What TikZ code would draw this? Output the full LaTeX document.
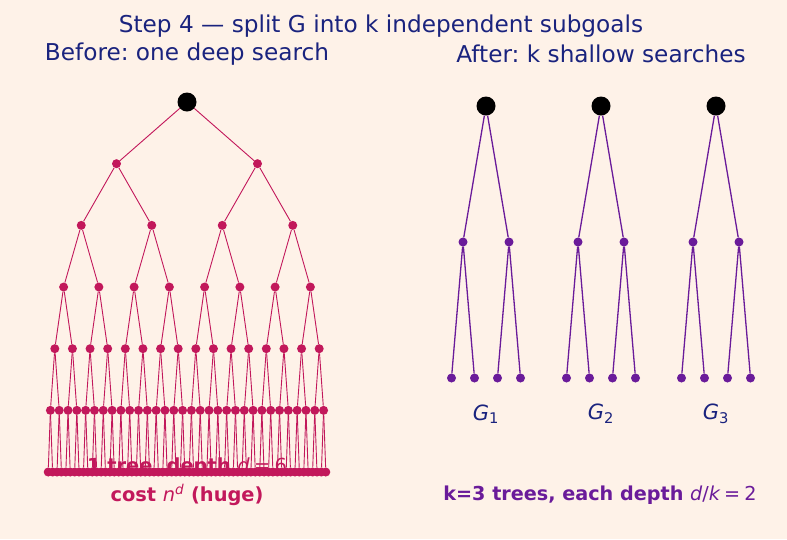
\documentclass[tikz,border=0pt]{standalone}
\usepackage{fontspec}
\setmainfont{DejaVu Sans}
\frenchspacing

\definecolor{bgcream}{HTML}{FEF2E8}
\definecolor{deepred}{HTML}{C2185B}
\definecolor{deeppurple}{HTML}{6A1B9A}
\definecolor{titlenavy}{HTML}{1A237E}

\newcommand{\mvar}[1]{{\mdseries\itshape #1}}
\newcommand{\meq}{{\mdseries\hspace{0.22em}=\hspace{0.22em}}}

\tikzset{
  rootdot/.style={circle,fill=black,inner sep=0pt,minimum size=19pt},
  reddot/.style={circle,fill=deepred,inner sep=0pt,minimum size=9pt},
  purpledot/.style={circle,fill=deeppurple,inner sep=0pt,minimum size=9pt},
  redline/.style={draw=deepred,line width=0.9pt},
  purpleline/.style={draw=deeppurple,line width=1.3pt},
  headtext/.style={text=titlenavy,font=\fontsize{23.2}{27}\selectfont},
  glabel/.style={text=titlenavy,font=\fontsize{21}{25}\selectfont},
  redtext/.style={text=deepred,font=\fontsize{19.4}{23}\selectfont\bfseries},
  purpletext/.style={text=deeppurple,font=\fontsize{19.2}{23}\selectfont\bfseries}
}

\begin{document}
\begin{tikzpicture}[x=1pt,y=-1pt]

\fill[bgcream] (0,0) rectangle (787,539);
\useasboundingbox (0,0) rectangle (787,539);

% titles
\node[headtext] (title) at (381,26) {Step 4 --- split G into k independent subgoals};
\node[headtext] (before) at (187,54) {Before: one deep search};
\node[headtext] (after) at (601,54) {After: k shallow searches};

% left: one deep tree
\node[redtext] (depthnote) at (187,467) {1 tree, depth \mvar{d}\meq{\mdseries 6}};
\node[redtext] (costnote) at (187,495) {cost \mvar{n}\textsuperscript{\mvar{d}} (huge)};

\node[rootdot] (n-0-0) at (187,102) {};
\foreach \lv in {1,...,6}{
  \pgfmathtruncatemacro\cnt{2^\lv-1}
  \pgfmathsetmacro\gap{141/2^\lv}
  \foreach \i in {0,...,\cnt}{
    \node[reddot] (n-\lv-\i) at ({46+(2*\i+1)*\gap},{102+61.67*\lv}) {};
  }
}
\foreach \lv in {1,...,6}{
  \pgfmathtruncatemacro\up{\lv-1}
  \pgfmathtruncatemacro\cnt{2^\lv-1}
  \foreach \i in {0,...,\cnt}{
    \pgfmathtruncatemacro\pa{floor(\i/2)}
    \draw[redline] (n-\up-\pa) -- (n-\lv-\i);
  }
}

% right: k shallow trees
\foreach \k/\cx in {1/486,2/601,3/716}{
  \node[rootdot] (t\k-r) at (\cx,106) {};
  \node[purpledot] (t\k-a) at (\cx-23,242) {};
  \node[purpledot] (t\k-b) at (\cx+23,242) {};
  \node[purpledot] (t\k-aa) at (\cx-34.5,378) {};
  \node[purpledot] (t\k-ab) at (\cx-11.5,378) {};
  \node[purpledot] (t\k-ba) at (\cx+11.5,378) {};
  \node[purpledot] (t\k-bb) at (\cx+34.5,378) {};
  \draw[purpleline] (t\k-r) -- (t\k-a);
  \draw[purpleline] (t\k-r) -- (t\k-b);
  \draw[purpleline] (t\k-a) -- (t\k-aa);
  \draw[purpleline] (t\k-a) -- (t\k-ab);
  \draw[purpleline] (t\k-b) -- (t\k-ba);
  \draw[purpleline] (t\k-b) -- (t\k-bb);
  \node[glabel] (g\k) at (\cx,414) {\mvar{G}\textsubscript{\k}};
}

\node[purpletext] (ksplit) at (600,495) {k=3 trees, each depth \mvar{d}{\mdseries/}\mvar{k}\meq{\mdseries 2}};

\end{tikzpicture}
\end{document}
